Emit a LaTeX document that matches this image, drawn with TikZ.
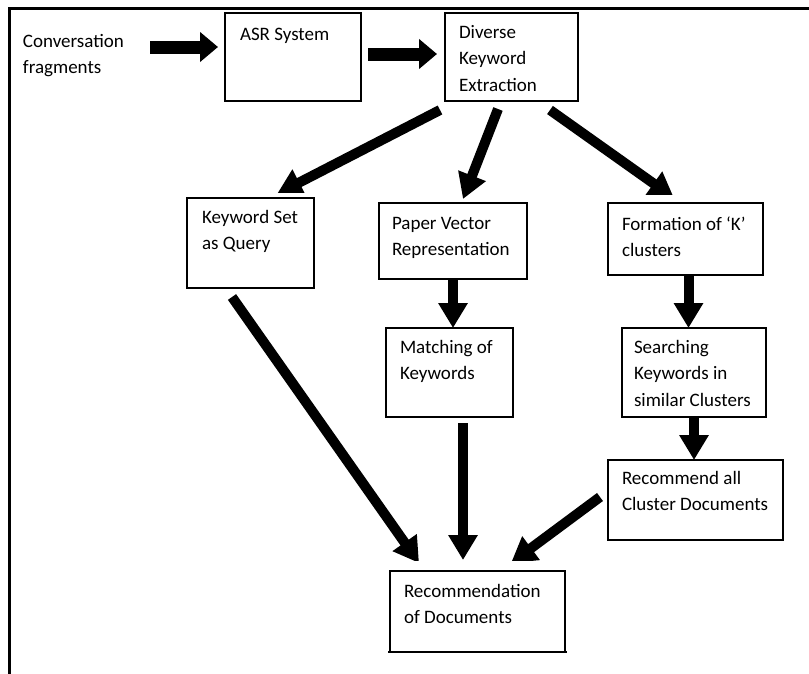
\documentclass[tikz,border=0pt]{standalone}
\usepackage{fontspec}
\setmainfont{Carlito}
\usetikzlibrary{arrows.meta}
\begin{document}
\begin{tikzpicture}[x=1pt,y=-1pt,
  box/.style={draw=black, line width=1.3pt, inner sep=0pt, outer sep=0pt},
  txt/.style={anchor=north west, inner sep=0pt, outer sep=0pt, align=left,
    font=\fontsize{19}{26.5}\selectfont},
  fat/.style={line width=10pt, -{Triangle[length=25pt,width=28pt]}},
  block/.style={line width=13pt, -{Triangle[length=18pt,width=29pt]}},
  frame/.style={line width=3pt, line cap=rect}]
\useasboundingbox (0,0) rectangle (809,673);
% outer frame
\coordinate (fTL) at (9,8);
\coordinate (fTR) at (812,8);
\coordinate (fBL) at (9,676);
\draw[frame] (fTR) -- (fTL) -- (fBL);
% boxes
\node[box, minimum width=136pt, minimum height=88pt] (asr) at (293,57) {};
\node[box, minimum width=133pt, minimum height=88pt] (dke) at (511.5,57) {};
\node[box, minimum width=127pt, minimum height=90pt] (ksq) at (250.5,243) {};
\node[box, minimum width=148pt, minimum height=76pt] (pvr) at (453,241) {};
\node[box, minimum width=155pt, minimum height=72pt] (fkc) at (685.5,239) {};
\node[box, minimum width=127pt, minimum height=89pt] (mok) at (449.5,372.5) {};
\node[box, minimum width=144pt, minimum height=89pt] (skc) at (694,372.5) {};
\node[box, minimum width=175pt, minimum height=80pt] (rcd) at (695.5,500) {};
\node[box, minimum width=175pt, minimum height=81pt] (rod) at (477.5,611.5) {};
\draw[line width=2.5pt] ([shift={(-2,0)}]rod.south west) -- ([shift={(2,0)}]rod.south east);
% texts
\node[txt] (conv) at (23,28.5) {\strut Conversation\\fragments};
\node[txt] (asrT) at (240,21.5) {\strut ASR System};
\node[txt] (dkeT) at (459,19.5) {\strut Diverse\\Keyword\\Extraction};
\node[txt] (ksqT) at (202,204.5) {\strut Keyword Set\\as Query};
\node[txt] (pvrT) at (392,210.5) {\strut Paper Vector\\Representation};
\node[txt] (fkcT) at (622,211.5) {\strut Formation of ‘K’\\clusters};
\node[txt] (mokT) at (400,334.5) {\strut Matching of\\Keywords};
\node[txt] (skcT) at (634,334.5) {\strut Searching\\Keywords in\\similar Clusters};
\node[txt] (rcdT) at (622,465.5) {\strut Recommend all\\Cluster Documents};
\node[txt] (rodT) at (404,578.5) {\strut Recommendation\\of Documents};
% arrows
\draw[block] ([shift={(127,18.5)}]conv.north west) -- ([shift={(-7,-10)}]asr.west);
\draw[block] ([shift={(7,-3)}]asr.east) -- ([shift={(-8,-3)}]dke.west);
\begin{scope}
  \clip (0,0) rectangle (809,192);
  \draw[fat] ([shift={(-5,9)}]dke.south west) -- ([shift={(90,-4)}]ksq.north west);
\end{scope}
\draw[fat] ([shift={(53,8)}]dke.south west) -- ([shift={(84,-4)}]pvr.north west);
\begin{scope}
  \clip (0,0) rectangle (809,194.5);
  \draw[fat] ([shift={(105,9)}]dke.south west) -- ([shift={(66,-5)}]fkc.north west);
\end{scope}
\draw[fat] (pvr.south) -- (pvr.south |- mok.north);
\draw[fat] ([shift={(3,0)}]fkc.south) -- ([shift={(3,0)}]fkc.south |- skc.north);
\draw[fat] (skc.south) -- (skc.south |- rcd.north);
\draw[fat] ([shift={(77,6)}]mok.south west) -- ([shift={(73,-11)}]rod.north west);
\begin{scope}
  \clip (0,0) rectangle (809,560);
  \draw[fat] ([shift={(45,9)}]ksq.south west) -- ([shift={(29,-8)}]rod.north west);
  \draw[fat] ([shift={(-8,37)}]rcd.north west) -- ([shift={(121,-8)}]rod.north west);
\end{scope}
\end{tikzpicture}
\end{document}
